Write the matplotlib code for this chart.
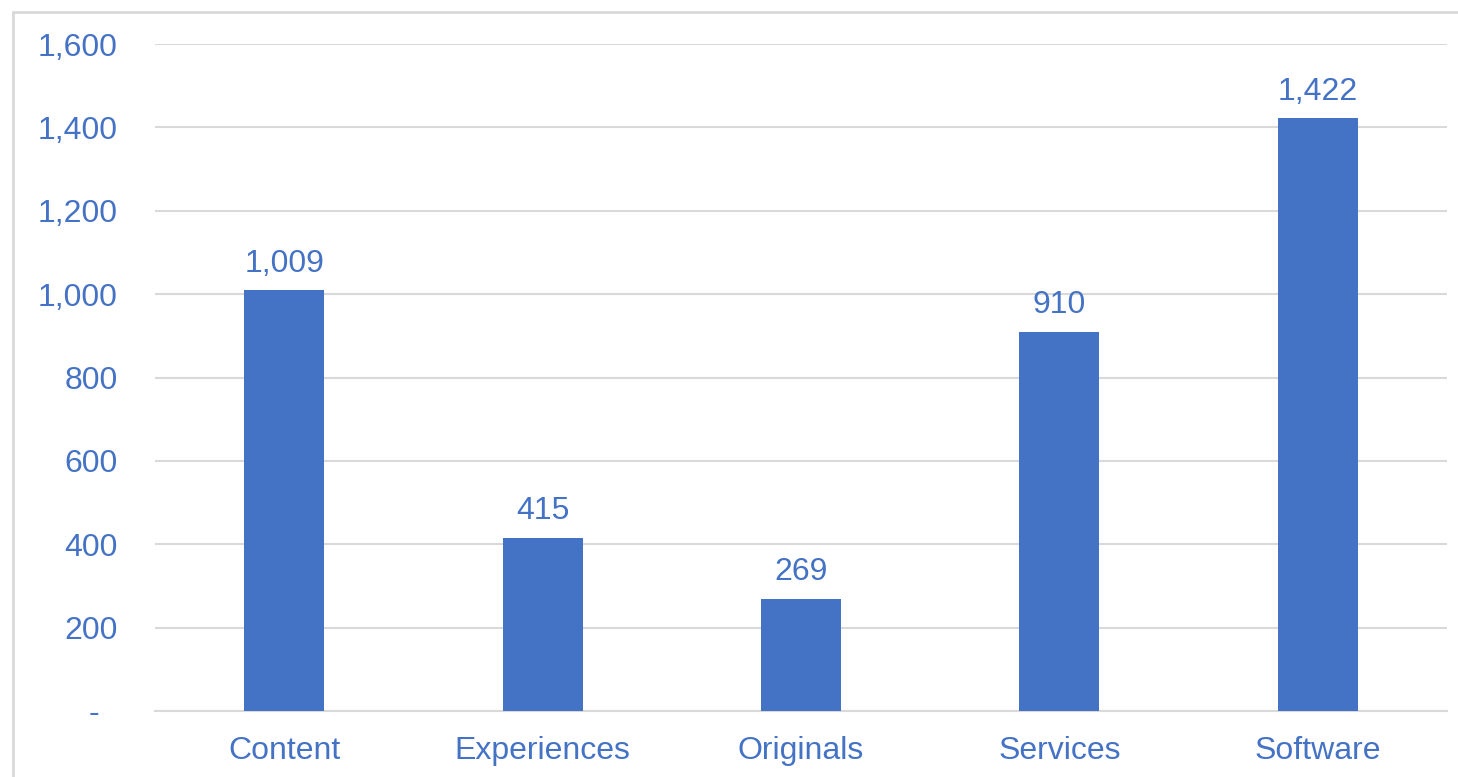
import matplotlib.pyplot as plt
from matplotlib.patches import Rectangle
from matplotlib.ticker import FuncFormatter

categories = ['Content', 'Experiences', 'Originals', 'Services', 'Software']
values = [1009, 415, 269, 910, 1422]
yticks = [0, 200, 400, 600, 800, 1000, 1200, 1400, 1600]

blue = '#4472C4'
grid = '#D9D9D9'

plt.rcParams['font.family'] = ['Liberation Sans', 'DejaVu Sans']

fig = plt.figure(figsize=(14.58, 7.77), dpi=100)
# light chart border like the spreadsheet chart frame
fig.patches.append(Rectangle((13 / 1458, -0.1), 1.2, 1.1 - 12 / 777,
                             transform=fig.transFigure, fill=False,
                             edgecolor=grid, linewidth=2))

ax = fig.add_axes([155 / 1458, 1 - 711 / 777, (1447 - 155) / 1458, (711 - 44) / 777])
x = range(len(categories))
ax.bar(x, values, width=0.31, color=blue, zorder=3)

for xi, v in zip(x, values):
    ax.text(xi, v + 28, f'{v:,}', ha='center', va='bottom', color=blue, fontsize=23)

ax.set_xlim(-0.5, len(categories) - 0.5)
ax.set_ylim(0, 1600)
ax.set_yticks(yticks)
# accounting style: zero shown as a dash
ax.yaxis.set_major_formatter(FuncFormatter(lambda v, p: '-  ' if v == 0 else f'{int(v):,}'))
ax.set_xticks(list(x))
ax.set_xticklabels(categories)
ax.tick_params(axis='both', length=0, labelsize=23, labelcolor=blue)
ax.tick_params(axis='y', pad=27)
ax.tick_params(axis='x', pad=18)
ax.grid(axis='y', color=grid, linewidth=1.5, zorder=0)
for s in ['top', 'right', 'left']:
    ax.spines[s].set_visible(False)
ax.spines['bottom'].set_color(grid)
ax.spines['bottom'].set_linewidth(1.5)

fig.savefig('out.png', dpi=100)
